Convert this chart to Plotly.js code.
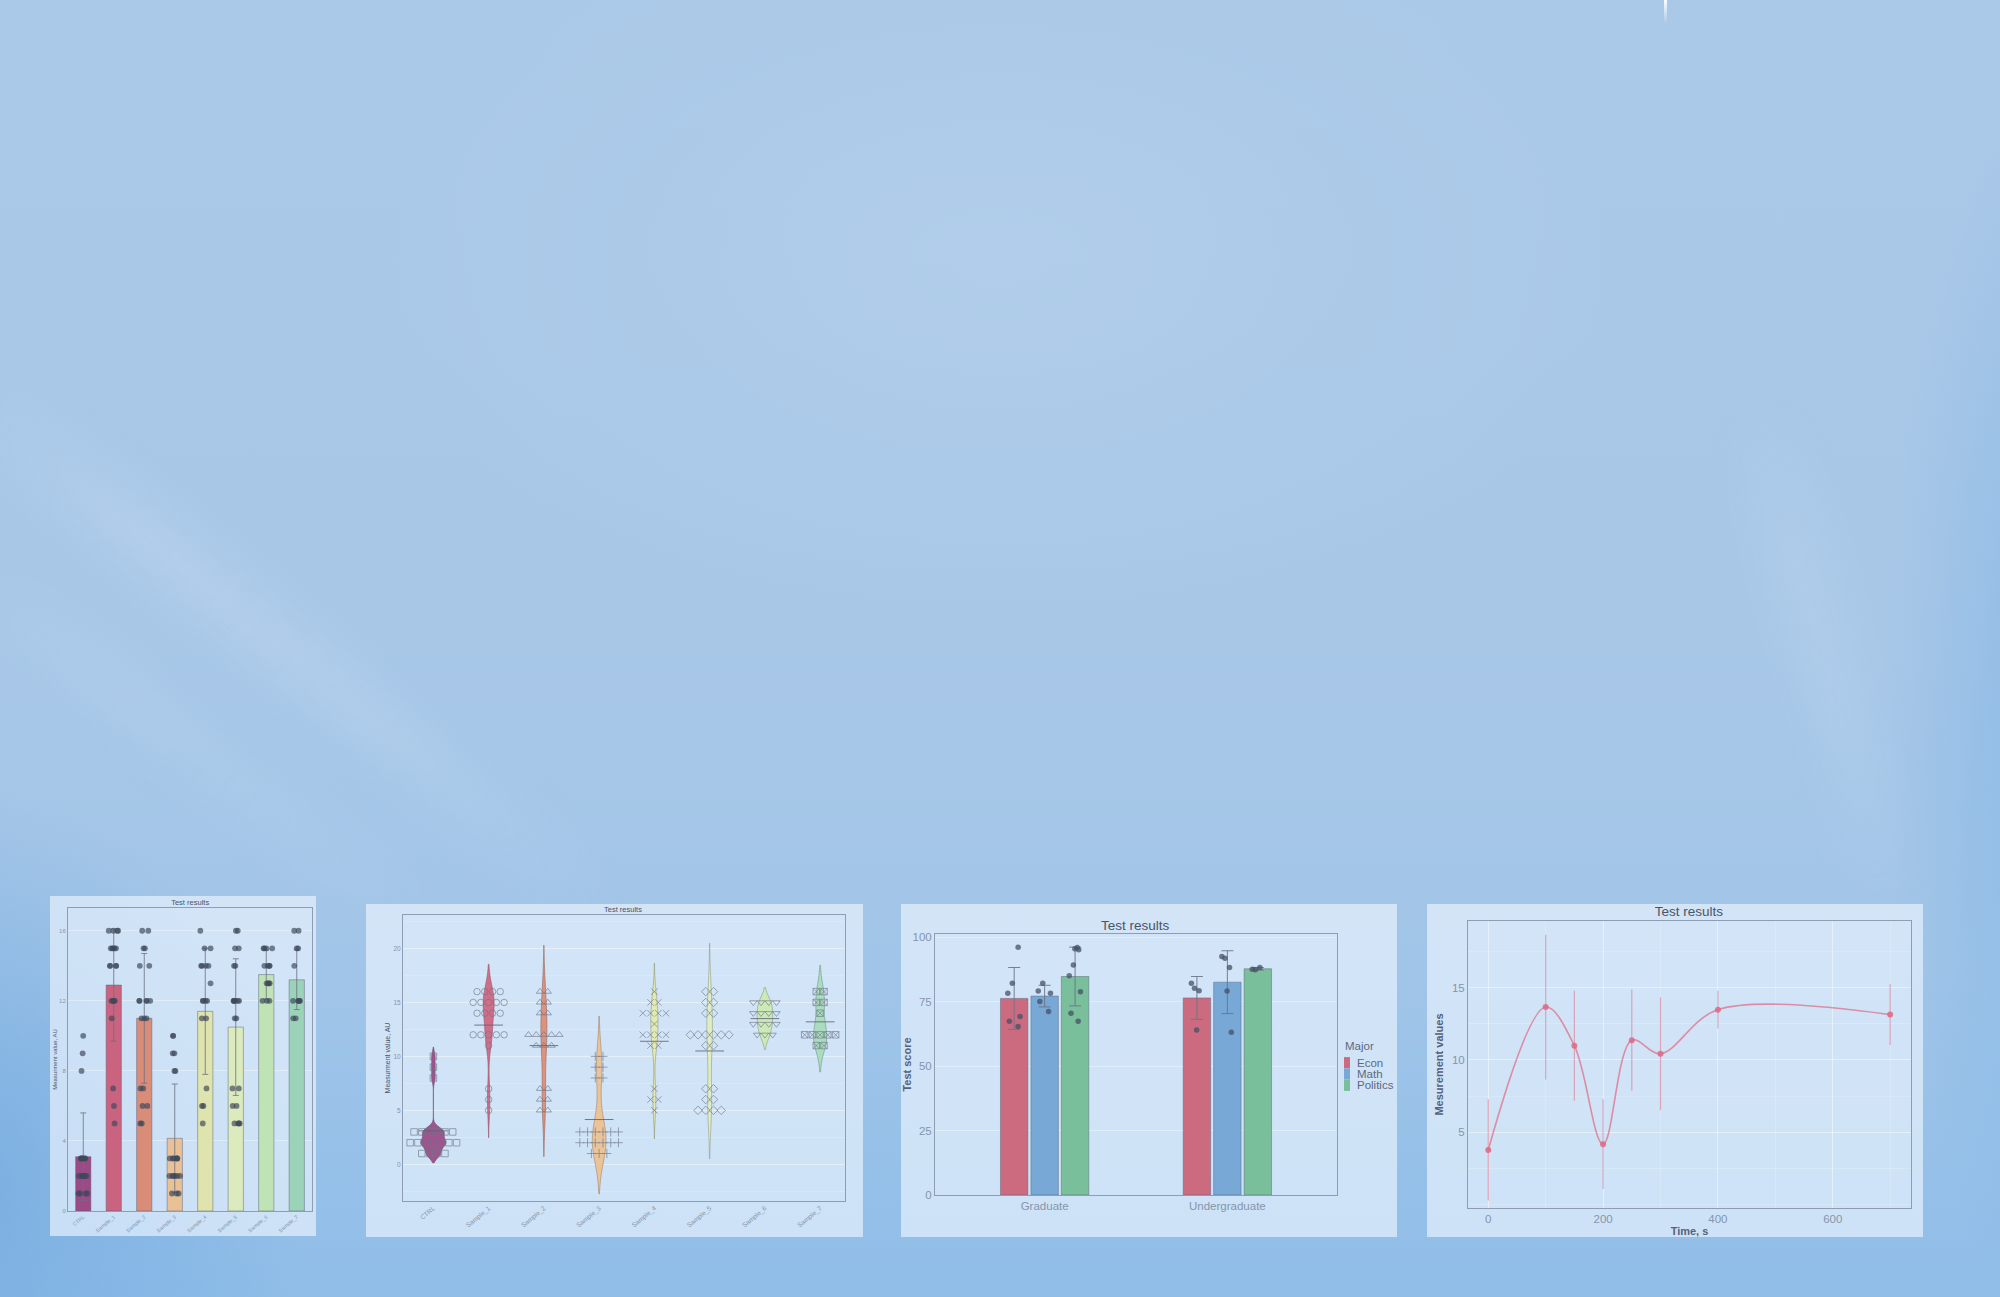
<!DOCTYPE html>
<html>
<head>
<meta charset="utf-8">
<script src="https://cdn.plot.ly/plotly-3.0.1.min.js"></script>
<style>
html,body{margin:0;padding:0;width:2000px;height:1297px;overflow:hidden;}
body{
  position:relative;
  background:
   radial-gradient(ellipse 900px 520px at 1000px 260px, rgba(186,212,238,0.45), rgba(186,212,238,0) 70%),
   radial-gradient(ellipse 520px 560px at -60px 1180px, rgba(112,168,222,0.75), rgba(112,168,222,0) 70%),
   radial-gradient(ellipse 260px 900px at 2070px 720px, rgba(118,176,228,0.6), rgba(118,176,228,0) 70%),
   linear-gradient(180deg, #aac8e7 0%, #a8c7e7 50%, #a1c5e8 75%, #8fbde8 100%);
}
.panel{position:absolute;}
.band{position:absolute;filter:blur(22px);transform-origin:50% 50%;}
#streak{position:absolute;left:1664px;top:0;width:3px;height:24px;background:linear-gradient(180deg,rgba(255,255,255,0.95),rgba(255,255,255,0));}
</style>
</head>
<body>
<div class="band" style="left:-112px;top:630px;width:800px;height:44px;transform:rotate(38.7deg);background:linear-gradient(90deg,rgba(215,232,250,0),rgba(215,232,250,0.26) 25%,rgba(215,232,250,0.22) 65%,rgba(215,232,250,0));"></div>
<div class="band" style="left:-80px;top:735px;width:560px;height:38px;transform:rotate(37deg);background:linear-gradient(90deg,rgba(215,232,250,0),rgba(215,232,250,0.16) 30%,rgba(215,232,250,0.13) 70%,rgba(215,232,250,0));"></div>
<div class="band" style="left:1579px;top:636px;width:490px;height:40px;transform:rotate(74.9deg);background:linear-gradient(90deg,rgba(215,232,250,0),rgba(215,232,250,0.2) 30%,rgba(215,232,250,0.16) 70%,rgba(215,232,250,0));"></div>
<div id="streak"></div>
<div id="p1" class="panel" style="left:50px;top:896px;width:266px;height:340px"></div>
<div id="p2" class="panel" style="left:366px;top:904px;width:497px;height:333px"></div>
<div id="p3" class="panel" style="left:901px;top:904px;width:496px;height:333px"></div>
<div id="p4" class="panel" style="left:1427px;top:904px;width:496px;height:333px"></div>
<script>
// ---------------- DATA ----------------
const samples = ['CTRL','Sample_1','Sample_2','Sample_3','Sample_4','Sample_5','Sample_6','Sample_7'];
const ctrlValues    = [10,9,8,3,3,3,3,3,3,2,2,2,2,2,2,2,1,1,1,1];
const sample1Values = [16,16,16,16,15,15,15,15,15,14,14,14,14,12,12,12,12,12,11,7,6,5];
const sample2Values = [16,16,15,15,14,14,12,12,12,12,12,11,11,11,7,7,6,6,5,5];
const sample3Values = [10,10,9,9,8,8,3,3,3,3,3,3,2,2,2,2,2,2,1,1,1];
const sample4Values = [16,15,15,14,14,14,14,13,12,12,12,12,11,11,7,6,6,5];
const sample5Values = [16,16,15,15,14,14,12,12,12,12,12,12,11,11,7,7,6,6,5,5,5,5];
const sample6Values = [15,15,15,15,14,14,14,14,13,13,13,13,12,12,12];
const sample7Values = [16,16,15,15,14,12,12,12,12,12,11,11];
const sampleMeans = [3.1, 12.9, 11.0, 4.15, 11.4, 10.5, 13.5, 13.2];
const sampleSD    = [2.5, 3.2, 3.7, 3.1, 3.6, 3.9, 1.4, 1.7];

const majors = ['Econ','Math','Politics'];
const levels = ['Graduate','Undergraduate'];
const econMeans = [76.3, 76.5];     const econSD = [12.0, 8.3];
const mathMeans = [77.2, 82.6];     const mathSD = [4.2, 12.2];
const politicsMeans = [84.8, 87.8]; const politicsSD = [11.4, 0.5];
const econGraduate = [96.2, 82.2, 78.3, 69.3, 67.4, 65.4];
const econUndergraduate = [82.2, 80.2, 79.3, 64.0];
const mathGraduate = [82.2, 79.2, 78.3, 75.1, 71.2];
const mathUndergraduate = [92.6, 91.9, 88.3, 79.2, 63.2];
const politicsGraduate = [95.6, 96.1, 95.2, 89.3, 85.1, 78.9, 70.5, 67.4];
const politicsUndergraduate = [88.3, 87.6, 87.4];

const timeS = [0, 100, 150, 200, 250, 300, 400, 700];
const measValues = [3.77, 13.65, 10.98, 4.17, 11.36, 10.42, 13.47, 13.13];
const measErrors = [3.5, 5.0, 3.8, 3.1, 3.5, 3.9, 1.3, 2.1];

// ---------------- STYLE ----------------
const FONT = 'Liberation Sans, Arial, sans-serif';
const panelBg = 'rgba(228,240,252,0.72)';
const titleCol = '#4a5468';
const tickCol = '#8595ab';
const axisLine = '#8e9db2';
const gridCol = 'rgba(255,255,255,0.35)';
const barFill = ['#9c4a86','#c9637f','#d98c78','#e8c197','#dfe3ad','#dcebbd','#bfe3b5','#9bd3b9'];
const violinFill = ['#9a4584','#d0617e','#de8a70','#eec08e','#e3eba9','#e2efbd','#cdeab2','#a6dcbb'];
const violinLine = ['#6e3a60','#8a4a5c','#8e5a4e','#9a7a5a','#8c9070','#8c9478','#7e9474','#6a8e7a'];
const shapes2 = ['square-open','circle-open','triangle-up-open','cross-thin-open','x-thin-open','diamond-open','triangle-down-open','square-x-open'];
const violinWidths = [0.46, 0.2, 0.11, 0.25, 0.13, 0.1, 0.28, 0.24];
const majorColors = ['#cc6b80','#78a8d6','#79bf9c'];

const allSamples = [ctrlValues, sample1Values, sample2Values, sample3Values, sample4Values, sample5Values, sample6Values, sample7Values];
const cfg = {staticPlot:true, displayModeBar:false};

// ---------------- PANEL 1 : bars + jittered points ----------------
(function(){
  const px = [], py = [];
  allSamples.forEach((vals,i)=>vals.forEach(v=>{px.push(samples[i]); py.push(v);}));
  const traces = [
    {type:'bar', x:samples, y:sampleMeans, width:0.5,
     marker:{color:barFill, line:{color:'rgba(90,95,120,0.6)', width:0.8}},
     error_y:{type:'data', array:sampleSD, visible:true, color:'#6a7080', thickness:0.8, width:3}},
    {type:'box', x:px, y:py, boxpoints:'all', jitter:0.85, pointpos:0,
     fillcolor:'rgba(0,0,0,0)', line:{color:'rgba(0,0,0,0)', width:0},
     marker:{color:'rgba(62,72,92,0.68)', size:5.8}}
  ];
  const layout = {
    width:266, height:340, margin:{l:18, r:4, t:12, b:25},
    paper_bgcolor:panelBg, plot_bgcolor:'rgba(0,0,0,0)',
    font:{family:FONT, color:tickCol, size:5.5},
    title:{text:'Test results', font:{family:FONT, size:7.5, color:titleCol}, x:0.527, xanchor:'center', y:0.981, yanchor:'middle'},
    showlegend:false, boxmode:'overlay',
    xaxis:{type:'category', tickangle:-40, tickfont:{size:5.2, color:tickCol}, showline:true, mirror:true,
           linecolor:axisLine, linewidth:1, showgrid:false, ticks:'', ticklen:0, automargin:false},
    yaxis:{range:[0,17.3], tickvals:[0,4,8,12,16], tickfont:{size:6, color:tickCol}, showline:true, mirror:true,
           linecolor:axisLine, linewidth:1, showgrid:true, gridcolor:gridCol, zeroline:false, ticks:'', automargin:false,
           title:{text:'Measurment value, AU', font:{size:6, color:titleCol}, standoff:1}}
  };
  Plotly.newPlot('p1', traces, layout, cfg);
})();

// ---------------- PANEL 2 : violins + swarm ----------------
(function(){
  const traces = [];
  allSamples.forEach((vals,i)=>{
    traces.push({type:'violin', x:vals.map(()=>i), y:vals, width:violinWidths[i], points:false,
      fillcolor:violinFill[i], line:{color:violinLine[i], width:0.6}, opacity:0.9,
      box:{visible:false}, meanline:{visible:false}, spanmode:'soft', hoverinfo:'skip'});
  });
  allSamples.forEach((vals,i)=>{
    const groups = {};
    vals.forEach(v=>{(groups[v] = groups[v] || []).push(v);});
    const xs = [], ys = [];
    Object.keys(groups).forEach(k=>{
      const g = groups[k];
      g.forEach((v,j)=>{ xs.push(i + (j - (g.length-1)/2) * 0.14); ys.push(v); });
    });
    traces.push({type:'scatter', mode:'markers', x:xs, y:ys,
      marker:{symbol:shapes2[i], size:6.5, color:'rgba(110,118,135,0.8)', line:{width:0.8}}});
  });
  const mx = [], my = [];
  sampleMeans.forEach((m,i)=>{ mx.push(i-0.26, i+0.26, null); my.push(m, m, null); });
  traces.push({type:'scatter', mode:'lines', x:mx, y:my, line:{color:'rgba(95,100,115,0.85)', width:1}});
  const layout = {
    width:497, height:333, margin:{l:37, r:18, t:11, b:36},
    paper_bgcolor:panelBg, plot_bgcolor:'rgba(0,0,0,0)',
    font:{family:FONT, color:tickCol, size:6.5},
    title:{text:'Test results', font:{family:FONT, size:7.5, color:titleCol}, x:0.517, xanchor:'center', y:0.985, yanchor:'middle'},
    showlegend:false, violinmode:'overlay',
    xaxis:{range:[-0.55,7.45], tickvals:[0,1,2,3,4,5,6,7], ticktext:samples, tickangle:-40,
           tickfont:{size:6.5, color:tickCol}, showline:true, mirror:true, linecolor:axisLine, linewidth:1,
           showgrid:false, zeroline:false, ticks:'', automargin:false},
    yaxis:{range:[-3.4,23.1], tickvals:[0,5,10,15,20], tickfont:{size:6.5, color:tickCol}, showline:true, mirror:true,
           linecolor:axisLine, linewidth:1, showgrid:true, gridcolor:gridCol, zeroline:false, ticks:'', automargin:false,
           minor:{dtick:2.5, showgrid:true, gridcolor:'rgba(255,255,255,0.18)'},
           title:{text:'Measurment value, AU', font:{size:7, color:titleCol}, standoff:2}}
  };
  Plotly.newPlot('p2', traces, layout, cfg);
})();

// ---------------- PANEL 3 : grouped bars ----------------
(function(){
  const means = [econMeans, mathMeans, politicsMeans];
  const sds = [econSD, mathSD, politicsSD];
  const pts = [[econGraduate, econUndergraduate],[mathGraduate, mathUndergraduate],[politicsGraduate, politicsUndergraduate]];
  const traces = [];
  majors.forEach((mj,i)=>{
    traces.push({type:'bar', name:mj, x:levels, y:means[i], marker:{color:majorColors[i], line:{color:'rgba(90,100,120,0.6)', width:0.8}},
      error_y:{type:'data', array:sds[i], visible:true, color:'#6a7486', thickness:0.9, width:6}});
  });
  majors.forEach((mj,i)=>{
    const x = [], y = [];
    levels.forEach((lv,k)=>pts[i][k].forEach(v=>{x.push(lv); y.push(v);}));
    traces.push({type:'box', name:mj, x:x, y:y, boxpoints:'all', jitter:0.55, pointpos:0,
      fillcolor:'rgba(0,0,0,0)', line:{color:'rgba(0,0,0,0)', width:0},
      marker:{color:'rgba(70,80,100,0.75)', size:5.5}});
  });
  const W = 402, H = 261;
  const ann = [{text:'Major', x:(1343-935)/W, y:(1195-1046)/H, xref:'paper', yref:'paper', xanchor:'left', yanchor:'middle',
                showarrow:false, font:{family:FONT, size:11.5, color:'#5c6a80'}}];
  const shp = [];
  const rows = [1062.7, 1074, 1085.3];
  majors.forEach((mj,i)=>{
    ann.push({text:mj, x:(1355-935)/W, y:(1195-rows[i])/H, xref:'paper', yref:'paper', xanchor:'left', yanchor:'middle',
              showarrow:false, font:{family:FONT, size:11.5, color:'#5c6a80'}});
    shp.push({type:'rect', xref:'paper', yref:'paper', x0:(1344-935)/W, x1:(1350-935)/W,
              y0:(1195-rows[i]-5.6)/H, y1:(1195-rows[i]+5.6)/H, fillcolor:majorColors[i], line:{width:0}});
  });
  const layout = {
    width:496, height:333, margin:{l:34, r:60, t:30, b:42},
    paper_bgcolor:panelBg, plot_bgcolor:'rgba(0,0,0,0)',
    font:{family:FONT, color:tickCol, size:11.5},
    title:{text:'Test results', font:{family:FONT, size:13.5, color:titleCol}, x:0.472, xanchor:'center', y:0.935, yanchor:'middle'},
    showlegend:false, barmode:'group', bargap:0.5, bargroupgap:0.1, boxmode:'group', boxgap:0.5, boxgroupgap:0.1,
    annotations:ann, shapes:shp,
    xaxis:{type:'category', range:[-0.6,1.6], tickfont:{size:11.5, color:tickCol}, showline:true, mirror:true,
           linecolor:axisLine, linewidth:1, showgrid:false, ticks:'', automargin:false},
    yaxis:{range:[0,101.3], tickvals:[0,25,50,75,100], tickfont:{size:11.5, color:tickCol}, showline:true, mirror:true,
           linecolor:axisLine, linewidth:1, showgrid:true, gridcolor:gridCol, zeroline:false, ticks:'', automargin:false,
           title:{text:'<b>Test score</b>', font:{size:11, color:'#55627a'}, standoff:4}}
  };
  Plotly.newPlot('p3', traces, layout, cfg);
})();

// ---------------- PANEL 4 : spline line ----------------
(function(){
  const traces = [{type:'scatter', mode:'lines+markers', x:timeS, y:measValues,
    line:{shape:'spline', smoothing:1, color:'rgba(222,112,138,0.75)', width:1.6},
    marker:{color:'rgba(222,105,132,0.85)', size:6},
    error_y:{type:'data', array:measErrors, visible:true, color:'rgba(222,120,145,0.6)', thickness:1.2, width:0}}];
  const layout = {
    width:496, height:333, margin:{l:41, r:12, t:17, b:29},
    paper_bgcolor:panelBg, plot_bgcolor:'rgba(0,0,0,0)',
    font:{family:FONT, color:tickCol, size:11.5},
    title:{text:'Test results', font:{family:FONT, size:13.5, color:titleCol}, x:0.528, xanchor:'center', y:0.977, yanchor:'middle'},
    showlegend:false,
    xaxis:{range:[-35.3,736.3], tickvals:[0,200,400,600], tickfont:{size:11.5, color:tickCol}, showline:true, mirror:true,
           linecolor:axisLine, linewidth:1, showgrid:true, gridcolor:gridCol, zeroline:false, ticks:'', automargin:false,
           minor:{dtick:100, showgrid:true, gridcolor:'rgba(255,255,255,0.18)'},
           title:{text:'<b>Time, s</b>', font:{size:11, color:'#55627a'}, standoff:0}},
    yaxis:{range:[-0.24,19.6], tickvals:[5,10,15], tickfont:{size:11.5, color:tickCol}, showline:true, mirror:true,
           linecolor:axisLine, linewidth:1, showgrid:true, gridcolor:gridCol, zeroline:false, ticks:'', automargin:false,
           minor:{dtick:2.5, showgrid:true, gridcolor:'rgba(255,255,255,0.18)'},
           title:{text:'<b>Mesurement values</b>', font:{size:11, color:'#55627a'}, standoff:6}}
  };
  Plotly.newPlot('p4', traces, layout, cfg);
})();
</script>
</body>
</html>
